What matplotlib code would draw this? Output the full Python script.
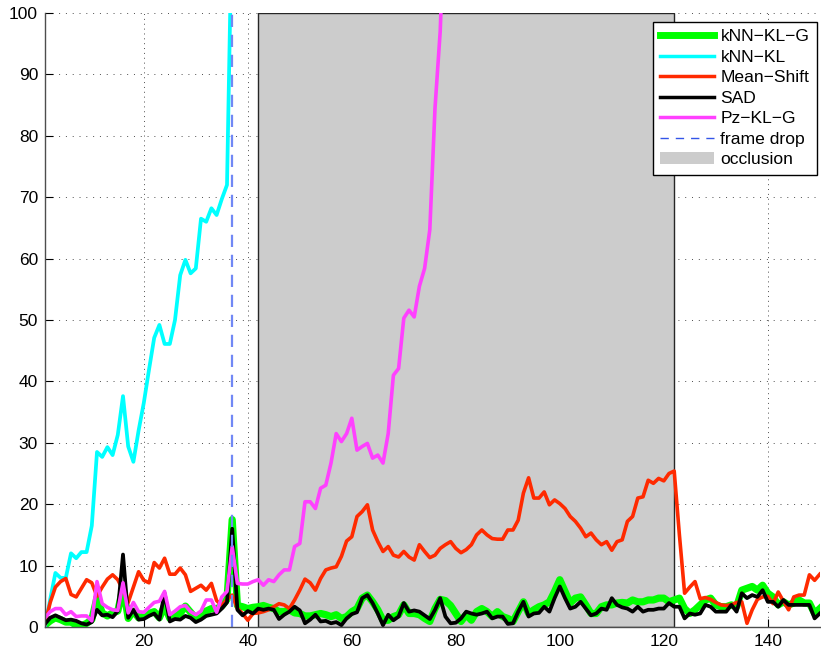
import numpy as np
import matplotlib
matplotlib.use("Agg")
import matplotlib.pyplot as plt
from matplotlib.patches import Patch
from matplotlib.lines import Line2D

plt.rcParams['font.family'] = ['Liberation Sans', 'DejaVu Sans']

frames = np.arange(1, 151)

knn_kl_g = [0.3, 1.0, 1.5, 1.2, 0.8, 0.8, 0.3, 0.2, 0.6, 1.2,
            4.8, 2.3, 1.8, 2.3, 2.6, 6.5, 1.4, 2.6, 1.5, 1.8,
            2.2, 2.5, 1.5, 3.5, 1.4, 1.8, 2.2, 3.4, 2.4, 1.4,
            2.0, 2.6, 3.0, 3.0, 3.4, 4.5, 17.5, 3.5, 3.3, 3.0,
            3.2, 3.3, 3.5, 3.2, 3.0, 2.5, 2.5, 2.8, 2.3, 2.2,
            1.8, 1.8, 2.0, 2.2, 2.0, 1.7, 2.0, 1.4, 1.7, 2.5,
            3.0, 4.7, 5.2, 4.1, 2.8, 1.1, 1.1, 1.7, 2.0, 3.6,
            2.2, 2.2, 2.0, 1.4, 0.9, 3.0, 4.5, 4.3, 3.5, 2.2,
            0.9, 2.0, 1.1, 2.5, 3.0, 2.5, 1.7, 2.5, 1.7, 1.4,
            0.9, 2.5, 4.1, 2.2, 2.8, 3.3, 3.6, 4.1, 5.8, 7.7,
            5.8, 3.9, 4.7, 4.9, 3.6, 2.2, 2.2, 3.3, 3.6, 3.6,
            3.9, 4.0, 3.9, 4.4, 4.1, 4.1, 4.4, 4.4, 4.7, 4.7,
            4.1, 4.4, 4.7, 3.0, 2.2, 2.8, 3.6, 4.4, 4.7, 3.6,
            3.3, 3.3, 3.6, 3.3, 6.0, 6.3, 6.6, 6.0, 6.8, 5.5,
            4.9, 3.6, 4.1, 3.6, 3.9, 4.4, 3.9, 3.9, 2.2, 3.0]

knn_kl = [0.0, 4.5, 8.8, 8.0, 8.0, 12.0, 11.2, 12.2, 12.2, 16.5,
          28.5, 27.7, 29.3, 28.0, 31.3, 37.6, 29.4, 26.9, 32.0, 36.5,
          41.9, 47.1, 49.2, 46.1, 46.1, 50.0, 57.3, 59.8, 57.6, 58.4,
          66.5, 66.0, 68.2, 67.1, 69.7, 72.0, 118.0] + [np.nan] * 113

mean_shift = [0.5, 4.0, 6.5, 7.4, 7.9, 5.3, 4.9, 6.3, 7.7, 7.2,
              5.0, 6.5, 7.8, 8.5, 7.7, 6.0, 4.0, 6.5, 9.0, 7.6,
              7.2, 10.5, 9.6, 11.2, 8.6, 8.6, 9.6, 8.5, 5.8, 6.3,
              6.8, 6.0, 7.1, 4.3, 3.5, 4.5, 5.2, 3.0, 2.2, 1.1,
              2.2, 2.3, 2.5, 2.8, 3.3, 3.8, 3.6, 3.0, 4.4, 6.0,
              7.8, 7.2, 6.0, 7.9, 9.3, 9.6, 9.8, 11.5, 14.0, 14.7,
              18.0, 18.8, 19.9, 15.8, 13.9, 12.3, 13.1, 11.7, 11.4, 12.3,
              11.4, 10.9, 13.4, 12.3, 11.3, 11.7, 12.8, 13.4, 13.9, 12.8,
              12.1, 12.6, 13.4, 15.0, 15.8, 15.0, 14.4, 14.3, 14.3, 15.8,
              15.8, 17.4, 21.8, 24.3, 21.0, 21.0, 22.0, 19.9, 20.7, 20.1,
              19.3, 18.0, 17.2, 16.1, 14.7, 15.3, 14.2, 13.4, 13.9, 12.5,
              13.9, 14.2, 17.2, 18.0, 21.0, 21.2, 23.9, 23.4, 24.2, 23.8,
              25.0, 25.4, 15.0, 5.5, 6.5, 7.4, 4.6, 4.8, 4.5, 4.0,
              3.6, 3.5, 3.6, 4.0, 4.1, 0.6, 2.8, 4.5, 4.9, 5.0,
              3.8, 5.7, 4.2, 2.8, 4.9, 5.2, 5.2, 8.5, 7.6, 8.6]

sad = [0.5, 1.5, 1.9, 1.5, 1.1, 1.2, 1.0, 0.6, 0.4, 0.8,
       2.8, 1.9, 2.0, 1.6, 2.6, 11.8, 1.5, 2.8, 1.2, 1.3,
       1.8, 2.2, 1.2, 5.5, 0.9, 1.3, 1.2, 1.8, 1.5, 0.8,
       1.2, 1.8, 2.0, 2.2, 3.0, 4.0, 16.0, 2.8, 1.9, 2.6,
       2.2, 3.0, 2.8, 3.0, 2.8, 1.3, 2.0, 2.5, 3.3, 2.7,
       0.6, 1.2, 2.0, 0.9, 1.0, 0.6, 0.8, 0.3, 1.4, 2.1,
       2.4, 4.7, 5.2, 3.9, 2.2, 0.3, 2.0, 1.1, 1.7, 3.9,
       2.5, 2.7, 2.5, 1.9, 1.3, 2.8, 4.7, 1.7, 0.6, 0.7,
       1.4, 2.5, 2.2, 2.0, 2.2, 2.5, 1.4, 1.7, 1.7, 0.5,
       0.6, 2.5, 4.1, 1.7, 2.2, 2.3, 3.3, 2.5, 4.7, 6.6,
       4.7, 3.0, 3.3, 4.1, 3.0, 1.9, 2.2, 3.0, 2.8, 4.7,
       3.6, 3.2, 3.0, 2.5, 3.3, 2.5, 2.8, 2.8, 3.0, 3.0,
       3.9, 3.3, 3.3, 1.4, 2.2, 2.0, 2.2, 3.6, 3.3, 2.5,
       2.5, 2.5, 3.6, 2.5, 5.5, 4.7, 5.2, 4.9, 6.0, 4.1,
       4.1, 3.3, 4.4, 3.6, 3.6, 3.6, 3.6, 3.6, 1.4, 2.2]

pz_kl_g = [1.5, 2.5, 3.0, 3.0, 2.0, 2.5, 1.7, 1.8, 1.8, 1.0,
           7.4, 3.8, 3.2, 2.8, 2.7, 7.2, 2.3, 4.0, 2.5, 2.4,
           3.2, 4.0, 4.2, 5.8, 2.0, 2.6, 3.3, 3.5, 2.5, 2.0,
           2.6, 4.4, 4.4, 2.4, 4.9, 5.8, 13.1, 7.1, 7.0, 7.0,
           7.4, 7.7, 6.8, 7.7, 7.4, 8.5, 9.3, 9.3, 13.1, 13.6,
           20.4, 20.4, 19.3, 22.6, 23.1, 26.7, 31.5, 30.2, 31.5, 34.0,
           28.8, 29.4, 29.9, 27.5, 28.0, 26.7, 31.5, 41.0, 42.1, 50.3,
           51.6, 50.5, 55.5, 58.4, 64.7, 84.5, 97.0, 120.0] + [np.nan] * 72

frame_drop = 37
occlusion = (42, 122)

x_ticks = [20, 40, 60, 80, 100, 120, 140]
y_ticks = list(range(0, 101, 10))

fig = plt.figure(figsize=(8.21, 6.52), dpi=100)
ax = fig.add_axes([45 / 821, 1 - 627 / 652, 774.8 / 821, 614 / 652])

ax.axvspan(occlusion[0], occlusion[1], facecolor='#cccccc', edgecolor='0.15',
           linewidth=1.0, zorder=1)

ax.plot(frames, knn_kl_g, color='#00ff00', lw=5.2, zorder=2)
ax.plot(frames, knn_kl, color='#00ffff', lw=2.7, zorder=2.1)
ax.plot(frames, mean_shift, color='#ff2a00', lw=2.6, zorder=2.2)
ax.plot(frames, sad, color='black', lw=2.7, zorder=2.3)
ax.plot(frames, pz_kl_g, color='#ff40ff', lw=2.6, zorder=2.4)
ax.axvline(frame_drop, color='#7188f5', lw=1.6, dashes=(5.5, 3.5), zorder=2.5)

ax.set_xlim(1, 150)
ax.set_ylim(0, 100)
ax.set_xticks(x_ticks)
ax.set_yticks(y_ticks)
ax.tick_params(direction='in', length=5.5, width=0.8, labelsize=12.5, pad=5)

ax.set_axisbelow(True)
ax.xaxis.grid(True, linestyle=(0, (1, 4)), color='0.3', linewidth=0.7)
ax.yaxis.grid(True, linestyle=(0, (1, 6)), color='0.3', linewidth=0.7)

for s in ('top', 'right'):
    ax.spines[s].set_visible(False)
for s in ('left', 'bottom'):
    ax.spines[s].set_color('0.3')
    ax.spines[s].set_linewidth(1.0)

handles = [
    Line2D([], [], color='#00ff00', lw=5.0),
    Line2D([], [], color='#00ffff', lw=2.5),
    Line2D([], [], color='#ff2a00', lw=2.5),
    Line2D([], [], color='black', lw=2.5),
    Line2D([], [], color='#ff40ff', lw=2.5),
    Line2D([], [], color='#3355e8', lw=1.0, dashes=(6, 5)),
    Patch(facecolor='#cccccc', edgecolor='none'),
]
labels = ['kNN\u2212KL\u2212G', 'kNN\u2212KL', 'Mean\u2212Shift', 'SAD',
          'Pz\u2212KL\u2212G', 'frame drop', 'occlusion']
leg = ax.legend(handles, labels, loc='upper right', bbox_to_anchor=(0.996, 0.986),
                borderaxespad=0, fontsize=12.6, handlelength=3.1, handletextpad=0.35,
                labelspacing=0.3, borderpad=0.42, fancybox=False, framealpha=1,
                edgecolor='black')
leg.get_frame().set_linewidth(1.0)

fig.savefig('out.png', dpi=100)
